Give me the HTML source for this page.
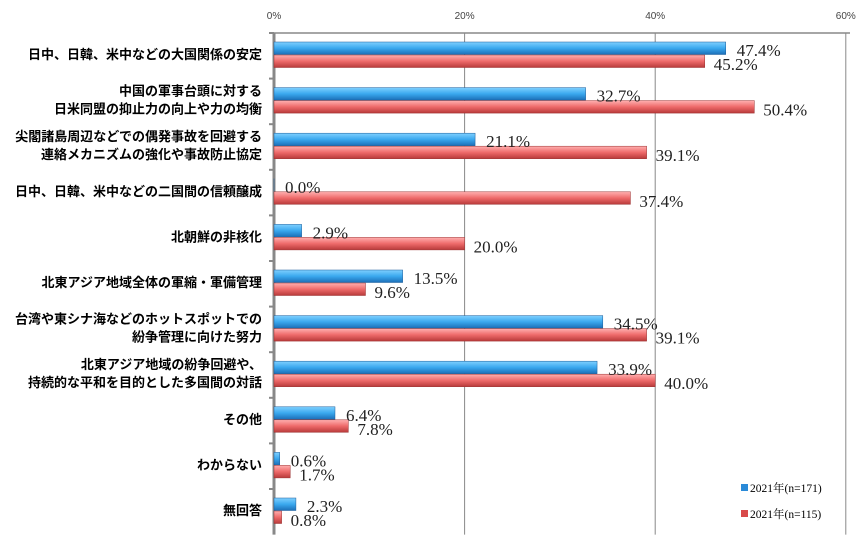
<!DOCTYPE html>
<html><head><meta charset="utf-8"><style>
body{margin:0;background:#fff;}
svg{display:block;}
.cat{font-family:"Liberation Sans","Noto Sans CJK JP",sans-serif;font-size:13px;font-weight:bold;fill:#000;}
.val{font-family:"Liberation Serif","Noto Serif CJK SC",serif;font-size:17px;fill:#222;}
.tick{font-family:"Liberation Sans",sans-serif;font-size:10px;fill:#444;}
.leg{font-family:"Liberation Serif","Noto Serif CJK SC",serif;font-size:11.5px;fill:#000;}
</style></head><body>
<svg id="chart" width="860" height="538">
<defs>
<linearGradient id="gb" x1="0" y1="0" x2="0" y2="1"><stop offset="0" stop-color="#7fd0ff"/><stop offset="0.5" stop-color="#3aa8ee"/><stop offset="1" stop-color="#1c6fb8"/></linearGradient>
<linearGradient id="gr" x1="0" y1="0" x2="0" y2="1"><stop offset="0" stop-color="#ffb0b0"/><stop offset="0.5" stop-color="#ee6a6a"/><stop offset="1" stop-color="#b83a3a"/></linearGradient>
</defs>
</svg>
<script>
const categories=[["日中、日韓、米中などの大国関係の安定"],["中国の軍事台頭に対する","日米同盟の抑止力の向上や力の均衡"],["尖閣諸島周辺などでの偶発事故を回避する","連絡メカニズムの強化や事故防止協定"],["日中、日韓、米中などの二国間の信頼醸成"],["北朝鮮の非核化"],["北東アジア地域全体の軍縮・軍備管理"],["台湾や東シナ海などのホットスポットでの","紛争管理に向けた努力"],["北東アジア地域の紛争回避や、","持続的な平和を目的とした多国間の対話"],["その他"],["わからない"],["無回答"]];
const series1=[47.4,32.7,21.1,0.0,2.9,13.5,34.5,33.9,6.4,0.6,2.3];
const series2=[45.2,50.4,39.1,37.4,20.0,9.6,39.1,40.0,7.8,1.7,0.8];
const ticks=[0,20,40,60];
const seriesNames=["2021年(n=171)","2021年(n=115)"];
const svg=document.getElementById('chart');
const NS='http://www.w3.org/2000/svg';
const x0=274,sc=9.53,plotTop=33,pitch=45.6,bottom=plotTop+pitch*categories.length;
const X=v=>x0+v*sc;
const Y=i=>plotTop+9+i*pitch;
function mk(t,a,txt){const e=document.createElementNS(NS,t);for(const k in a)e.setAttribute(k,a[k]);if(txt!==undefined)e.textContent=txt;svg.appendChild(e);return e;}
ticks.forEach((t,i)=>{
 const g=mk('line',{x1:X(t),y1:plotTop,x2:X(t),y2:bottom,stroke:'#888','stroke-width':t===0?3:1});
 
 
 const l=mk('text',{x:X(t),y:19,class:'tick','text-anchor':'middle'},t+'%');
 
 
});
const ax=mk('line',{x1:x0,y1:plotTop,x2:850,y2:plotTop,stroke:'#888','stroke-width':1.5});


categories.forEach((c,i)=>{
 const tk=mk('line',{x1:x0-5,y1:plotTop+i*pitch,x2:x0,y2:plotTop+i*pitch,stroke:'#888','stroke-width':2});
 
 
 const cy=Y(i)+13;
 c.forEach((line,j)=>{
  const t=mk('text',{x:262,y:cy+4+(j-(c.length-1)/2)*18,class:'cat','text-anchor':'end'},line);
  
  
 });
 const y=Y(i);
 const b1=mk('rect',{x:x0,y:y,width:Math.max(series1[i]*sc,0.01),height:12.5,fill:'url(#gb)',stroke:'#1a5c9a','stroke-width':0.5});
 
 
 const b2=mk('rect',{x:x0,y:y+13,width:series2[i]*sc,height:12.5,fill:'url(#gr)',stroke:'#9a3030','stroke-width':0.5});
 
 
 const v1=mk('text',{x:X(series1[i])+11,y:y+14,class:'val'},series1[i].toFixed(1)+'%');
 
 
 const v2=mk('text',{x:X(series2[i])+9,y:y+28,class:'val'},series2[i].toFixed(1)+'%');
 
 
});
const fills=['#2a8ad8','#d84a4a'];
seriesNames.forEach((n,i)=>{
 const r=mk('rect',{x:741,y:484+i*26,width:7,height:7,fill:fills[i]});
 
 
 const t=mk('text',{x:750,y:492+i*26,class:'leg'},n);
 
 
});
</script>
</body></html>
